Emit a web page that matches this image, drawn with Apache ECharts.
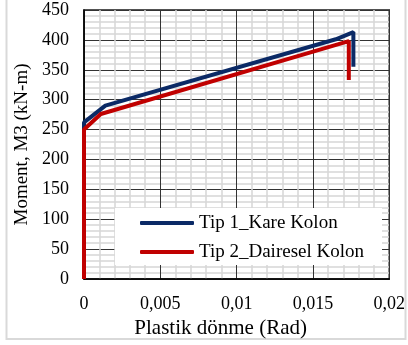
<!DOCTYPE html>
<html>
<head>
<meta charset="utf-8">
<script src="https://cdn.jsdelivr.net/npm/echarts@6/dist/echarts.min.js"></script>
<style>html,body{margin:0;padding:0;background:#fff}#c{width:408px;height:345px}</style>
</head>
<body>
<div id="c"></div>
<script>
var seriesNames = ['Tip 1_Kare Kolon', 'Tip 2_Dairesel Kolon'];
var tip1 = [[0, 0], [0, 262], [0.0014, 290], [0.0165, 401], [0.01765, 413], [0.01765, 355]];
var tip2 = [[0, 0], [0, 250], [0.0011, 276], [0.01735, 398], [0.01735, 333]];
var xTickLabels = ['0', '0,005', '0,01', '0,015', '0,02'];
var xMax = 0.02, yMax = 450;

var chart = echarts.init(document.getElementById('c'), null, {renderer: 'canvas'});
var font = '"Liberation Serif", "Times New Roman", serif';
chart.setOption({
  animation: false,
  backgroundColor: '#fff',
  textStyle: {fontFamily: font},
  grid: {left: 84, right: 18, top: 10, bottom: 66, show: true, borderColor: '#1a1a1a', borderWidth: 1.5, containLabel: false},
  graphic: [
    {type: 'rect', z: -1, silent: true, shape: {x: 6.5, y: -3, width: 399, height: 342}, style: {fill: 'none', stroke: '#d9d9d9', lineWidth: 2}},
    {type: 'rect', z: 3, silent: true, shape: {x: 115, y: 208, width: 267, height: 57}, style: {fill: '#fff'}}
  ],
  legend: {
    orient: 'vertical', left: 140, top: 213, z: 5,
    itemWidth: 54, itemHeight: 4, itemGap: 9, padding: 0,
    icon: 'roundRect',
    textStyle: {fontFamily: font, fontSize: 19, color: '#000', lineHeight: 20, padding: [0, 0, 0, 0]},
    data: seriesNames
  },
  xAxis: {
    type: 'value', min: 0, max: xMax, interval: 0.005,
    axisLine: {show: true, lineStyle: {color: '#000', width: 1.5}},
    axisTick: {show: false},
    axisLabel: {fontFamily: font, fontSize: 18, color: '#000', margin: 16,
      formatter: function (v) { var i = Math.round(v / 0.005); return xTickLabels[i]; }},
    splitLine: {show: true, lineStyle: {color: '#333', width: 1}},
    minorTick: {show: false, splitNumber: 5},
    minorSplitLine: {show: true, lineStyle: {color: '#d6d6d6', width: 1.5}},
    name: 'Plastik dönme (Rad)', nameLocation: 'middle', nameGap: 36,
    nameTextStyle: {fontFamily: font, fontSize: 21, color: '#000', padding: [0, 32, 0, 0]}
  },
  yAxis: {
    type: 'value', min: 0, max: yMax, interval: 50,
    axisLine: {show: true, lineStyle: {color: '#000', width: 1.5}},
    axisTick: {show: false},
    axisLabel: {fontFamily: font, fontSize: 18, color: '#000', margin: 15},
    splitLine: {show: true, lineStyle: {color: '#333', width: 1}},
    minorTick: {show: false, splitNumber: 5},
    minorSplitLine: {show: true, lineStyle: {color: '#d6d6d6', width: 1.5}},
    name: 'Moment, M3 (kN-m)', nameLocation: 'middle', nameGap: 50,
    nameTextStyle: {fontFamily: font, fontSize: 19, color: '#000'}
  },
  series: [
    {name: seriesNames[0], type: 'line', data: tip1, symbol: 'none', z: 2,
      lineStyle: {color: '#0b2a66', width: 4}, itemStyle: {color: '#0b2a66'}},
    {name: seriesNames[1], type: 'line', data: tip2, symbol: 'none', z: 2,
      lineStyle: {color: '#c00000', width: 4}, itemStyle: {color: '#c00000'}}
  ]
});
</script>
</body>
</html>
